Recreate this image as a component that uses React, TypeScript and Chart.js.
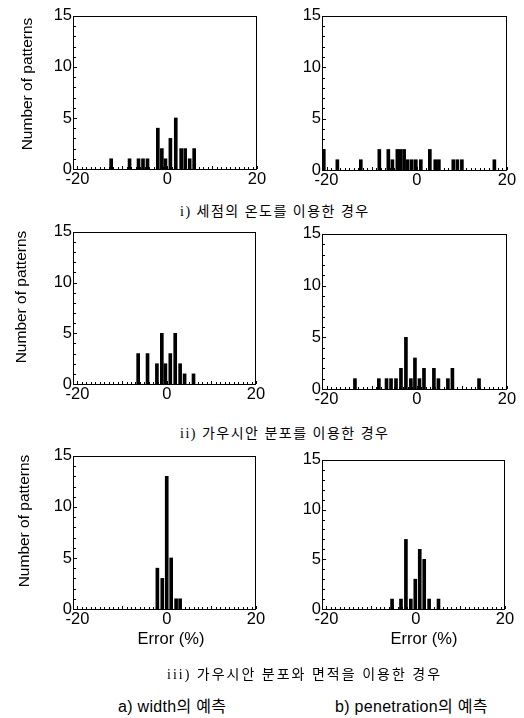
import React, { useEffect, useRef } from "react";
import { Chart, registerables } from "chart.js";

Chart.register(...registerables);

// ---- axis settings ----
const X_MIN = -21;
const X_MAX = 20;
const X_TICKS = [-20, 0, 20];
const Y_MIN = 0;
const Y_MAX = 15;
const Y_TICKS = [0, 5, 10, 15];

// ---- data: error (%) bin centres and number of patterns ----
// i) 세점의 온도를 이용한 경우
const widthI_x = [-12.5, -8.4, -6.4, -5.4, -4.4, -2.1, -1.2, -0.4, 0.7, 1.9, 3.1, 4.0, 5.0, 6.0];
const widthI_n = [1, 1, 1, 1, 1, 4, 2, 1, 3, 5, 2, 2, 1, 2];
const penI_x = [-20.6, -17.6, -12.4, -8.3, -6.3, -5.4, -4.3, -3.6, -2.8, -2.0, -1.1, -0.2, 0.9, 2.9, 4.1, 4.9, 8.1, 9.0, 10.0, 17.2];
const penI_n = [2, 1, 1, 2, 2, 1, 2, 2, 2, 1, 1, 1, 1, 2, 1, 1, 1, 1, 1, 1];
// ii) 가우시안 분포를 이용한 경우
const widthII_x = [-6.4, -4.3, -2.2, -1.1, -0.3, 0.8, 1.9, 3.0, 4.0, 6.0];
const widthII_n = [3, 3, 2, 5, 2, 3, 5, 2, 1, 1];
const penII_x = [-13.7, -8.4, -6.7, -5.7, -4.6, -3.5, -2.4, -1.3, -0.4, 0.6, 1.6, 3.8, 4.8, 6.9, 7.9, 13.8];
const penII_n = [1, 1, 1, 1, 1, 2, 5, 1, 3, 1, 2, 2, 1, 1, 2, 1];
// iii) 가우시안 분포와 면적을 이용한 경우
const widthIII_x = [-2.1, -1.0, 0.0, 1.0, 2.1, 3.0];
const widthIII_n = [4, 3, 13, 5, 1, 1];
const penIII_x = [-5.3, -3.3, -2.2, -1.1, -0.1, 0.9, 1.9, 3.0, 5.1];
const penIII_n = [1, 1, 7, 1, 3, 6, 5, 1, 1];

// ---- text ----
const Y_TITLE = "Number of patterns";
const X_TITLE = "Error (%)";
const CAPTION_I = "i) 세점의 온도를 이용한 경우";
const CAPTION_II = "ii) 가우시안 분포를 이용한 경우";
const CAPTION_III = "iii) 가우시안 분포와 면적을 이용한 경우";
const LABEL_A = "a) width의 예측";
const LABEL_B = "b) penetration의 예측";

const SANS = '"Liberation Sans", Arial, Helvetica, sans-serif';

type Box = { l: number; t: number; r: number; b: number };

const framePlugin = {
  id: "frame",
  afterDatasetsDraw(chart: any) {
    const { ctx, chartArea, scales } = chart;
    const { left, top, right, bottom } = chartArea;
    const x = scales.x;
    const y = scales.y;
    ctx.save();
    ctx.strokeStyle = "#000";
    ctx.lineWidth = 1;
    ctx.strokeRect(Math.round(left) + 0.5, Math.round(top) + 0.5, Math.round(right - left) - 1, Math.round(bottom - top));
    ctx.beginPath();
    for (let v = Y_MIN; v <= Y_MAX; v++) {
      const py = Math.round(y.getPixelForValue(v)) + 0.5;
      const len = v % 5 === 0 ? 4 : 3;
      ctx.moveTo(left, py);
      ctx.lineTo(left + len, py);
    }
    for (let v = -20; v <= 20; v++) {
      const px = Math.round(x.getPixelForValue(v)) + 0.5;
      const len = v % 10 === 0 ? 3 : 2;
      ctx.moveTo(px, bottom);
      ctx.lineTo(px, bottom - len);
    }
    ctx.stroke();
    ctx.restore();
  },
};

function Histogram({ xs, ns, box, yw }: { xs: number[]; ns: number[]; box: Box; yw: number }) {
  const ref = useRef<HTMLCanvasElement>(null);
  const padTop = 10;
  const padRight = 12;
  const xh = 26;
  const W = yw + (box.r - box.l) + padRight;
  const H = padTop + (box.b - box.t) + xh;

  useEffect(() => {
    const chart = new Chart(ref.current as HTMLCanvasElement, {
      type: "bar",
      data: {
        datasets: [
          {
            data: xs.map((x, i) => ({ x, y: ns[i] })),
            backgroundColor: "#000",
            borderWidth: 0,
            barThickness: 3,
          } as any,
        ],
      },
      options: {
        animation: false,
        responsive: false,
        devicePixelRatio: 1,
        layout: { padding: { top: padTop, right: padRight, left: 0, bottom: 0 } },
        plugins: { legend: { display: false }, tooltip: { enabled: false } },
        scales: {
          x: {
            type: "linear",
            min: X_MIN,
            max: X_MAX,
            offset: false,
            afterBuildTicks: (s: any) => {
              s.ticks = X_TICKS.map((v) => ({ value: v }));
            },
            afterFit: (s: any) => {
              s.height = xh;
            },
            grid: { display: false, drawTicks: false },
            border: { display: false },
            ticks: {
              padding: 1,
              color: "#000",
              autoSkip: false,
              maxRotation: 0,
              font: { family: SANS, size: 16.5 },
            },
          },
          y: {
            type: "linear",
            min: Y_MIN,
            max: Y_MAX,
            afterBuildTicks: (s: any) => {
              s.ticks = Y_TICKS.map((v) => ({ value: v }));
            },
            afterFit: (s: any) => {
              s.width = yw;
            },
            grid: { display: false, drawTicks: false },
            border: { display: false },
            ticks: {
              padding: 1,
              color: "#000",
              font: { family: SANS, size: 16.5 },
            },
          },
        },
      } as any,
      plugins: [framePlugin],
    });
    return () => chart.destroy();
  }, []);

  return (
    <canvas
      ref={ref}
      width={W}
      height={H}
      style={{ position: "absolute", left: box.l - yw, top: box.t - padTop, width: W, height: H }}
    />
  );
}

function Txt({ x, y, text, size, family, rotate, spacing, anchor }: any) {
  return (
    <div
      style={{
        position: "absolute",
        left: x,
        top: y,
        transform: `translate(${anchor === "left" ? "0" : "-50%"}, -50%)${rotate ? " rotate(-90deg)" : ""}`,
        transformOrigin: anchor === "left" ? "0 50%" : "50% 50%",
        whiteSpace: "nowrap",
        fontSize: size,
        fontFamily: family,
        letterSpacing: spacing || 0,
        color: "#000",
        lineHeight: 1,
      }}
    >
      {text}
    </div>
  );
}

export default function App() {
  const CAP_FONT = '"Liberation Serif", "Noto Sans CJK KR", serif';
  const LBL_FONT = '"Liberation Sans", "Noto Sans CJK KR", sans-serif';
  return (
    <div style={{ position: "absolute", left: 0, top: 0, width: 524, height: 718, background: "#fff", overflow: "hidden" }}>
      <Histogram xs={widthI_x} ns={widthI_n} box={{ l: 73, t: 15, r: 257, b: 169 }} yw={73} />
      <Histogram xs={penI_x} ns={penI_n} box={{ l: 322, t: 15, r: 507, b: 170 }} yw={50} />
      <Histogram xs={widthII_x} ns={widthII_n} box={{ l: 73, t: 231, r: 256, b: 384 }} yw={73} />
      <Histogram xs={penII_x} ns={penII_n} box={{ l: 322, t: 233, r: 507, b: 389 }} yw={50} />
      <Histogram xs={widthIII_x} ns={widthIII_n} box={{ l: 73, t: 455, r: 256, b: 609 }} yw={73} />
      <Histogram xs={penIII_x} ns={penIII_n} box={{ l: 322, t: 459, r: 505, b: 609 }} yw={50} />

      <Txt x={27} y={84} text={Y_TITLE} size={15.5} family={SANS} rotate />
      <Txt x={21} y={297} text={Y_TITLE} size={15.5} family={SANS} rotate />
      <Txt x={24} y={521} text={Y_TITLE} size={15.5} family={SANS} rotate />

      <Txt x={171} y={638} text={X_TITLE} size={16.5} family={SANS} />
      <Txt x={424} y={638} text={X_TITLE} size={16.5} family={SANS} />

      <Txt x={180} y={212} text={CAPTION_I} size={14} family={CAP_FONT} spacing={1.5} anchor="left" />
      <Txt x={180} y={434} text={CAPTION_II} size={14} family={CAP_FONT} spacing={1.5} anchor="left" />
      <Txt x={167} y={675} text={CAPTION_III} size={14} family={CAP_FONT} spacing={2} anchor="left" />

      <Txt x={118} y={707} text={LABEL_A} size={16} family={LBL_FONT} spacing={0.3} anchor="left" />
      <Txt x={335} y={707} text={LABEL_B} size={16} family={LBL_FONT} spacing={0.3} anchor="left" />
    </div>
  );
}
